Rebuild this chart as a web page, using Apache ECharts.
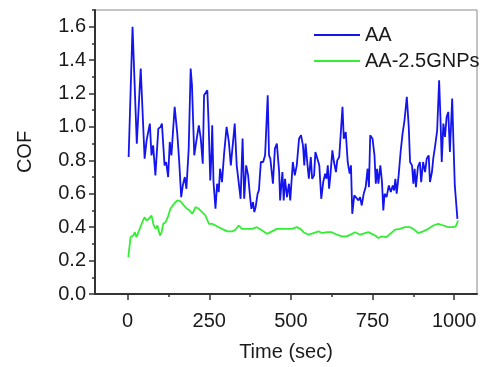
<!DOCTYPE html>
<html>
<head>
<meta charset="utf-8">
<script src="https://cdn.jsdelivr.net/npm/echarts@6/dist/echarts.min.js"></script>
<style>html,body{margin:0;padding:0;background:#fff;}#c{width:487px;height:367px;}</style>
</head>
<body>
<div id="c"></div>
<script>
const aaTime = [3,15,28,40,52,58,68,73,78,85,94,101,105,113,118,124,129,134,139,144,152,158,164,169,175,180,187,193,197,204,210,218,224,230,234,240,244,248,253,257,259,263,269,274,279,283,289,295,303,310,316,322,328,334,340,346,352,357,363,369,375,379,384,388,392,398,402,408,415,421,425,429,433,437,445,451,457,464,467,474,478,482,488,494,498,506,512,518,525,531,537,541,545,551,555,561,565,571,575,581,587,593,599,605,609,613,617,621,627,632,638,642,648,654,658,662,668,674,680,684,688,694,700,707,712,717,723,729,735,739,743,750,756,760,764,768,774,779,783,787,793,800,806,812,816,820,824,830,836,842,848,855,861,865,871,875,879,883,889,895,899,905,911,916,922,926,932,936,942,948,954,958,962,967,972,977,982,987,994,998,1002,1010];
const aaCOF = [0.82,1.60,0.90,1.35,0.81,0.92,1.02,0.83,0.89,0.71,0.99,1.00,1.02,0.77,0.79,0.70,0.91,0.83,0.83,1.12,0.96,0.79,0.58,0.65,0.70,0.63,0.87,1.35,1.25,0.83,0.91,1.01,0.93,0.78,1.19,1.19,1.22,1.02,0.68,0.85,1.01,0.67,0.51,0.66,0.61,0.75,0.67,0.83,1.00,0.91,0.77,0.76,1.02,0.77,0.77,0.57,0.93,0.57,0.77,0.71,0.58,0.51,0.55,0.49,0.52,0.60,0.62,0.79,0.79,0.83,0.84,1.19,0.83,0.81,0.66,0.87,0.90,0.73,0.56,0.73,0.56,0.69,0.58,0.66,0.56,0.79,0.71,0.77,0.93,0.95,0.89,0.77,0.90,0.77,0.69,0.82,0.69,0.71,0.85,0.85,0.77,0.57,0.67,0.72,0.69,0.77,0.63,0.71,0.86,0.79,0.73,0.80,0.82,0.83,1.12,0.93,0.97,0.79,0.72,0.77,0.48,0.59,0.58,0.56,0.58,0.53,0.60,0.64,0.75,0.64,0.95,0.93,0.83,0.66,0.75,0.66,0.77,0.67,0.50,0.60,0.58,0.65,0.61,0.65,0.62,0.69,0.60,0.71,0.85,0.96,1.04,1.18,1.00,0.79,0.77,0.66,0.75,0.64,0.76,0.79,0.67,0.79,0.73,0.81,0.83,0.67,0.73,0.81,0.89,0.98,1.28,1.06,0.79,1.02,0.94,1.06,1.09,0.85,1.17,0.90,0.65,0.45];

const gnpTime = [2,9,17,22,27,35,45,52,58,65,73,80,86,91,99,104,109,116,123,131,142,152,162,172,182,190,198,208,218,228,238,249,259,269,279,289,305,320,330,340,350,361,371,381,396,412,427,442,457,473,488,503,518,529,539,554,569,585,595,610,625,641,656,671,687,697,712,727,737,748,758,768,778,793,804,819,834,849,865,875,890,905,921,936,951,967,982,997,1005,1012];
const gnpCOF = [0.22,0.34,0.35,0.37,0.34,0.38,0.43,0.46,0.44,0.45,0.47,0.41,0.39,0.41,0.35,0.37,0.42,0.43,0.46,0.51,0.54,0.56,0.555,0.53,0.51,0.50,0.48,0.52,0.51,0.49,0.47,0.42,0.42,0.41,0.40,0.39,0.375,0.375,0.385,0.41,0.39,0.39,0.39,0.39,0.40,0.38,0.36,0.375,0.39,0.39,0.39,0.39,0.40,0.39,0.37,0.355,0.365,0.375,0.365,0.37,0.37,0.355,0.345,0.345,0.36,0.37,0.355,0.365,0.37,0.36,0.35,0.335,0.345,0.34,0.36,0.385,0.39,0.40,0.40,0.39,0.365,0.375,0.39,0.41,0.42,0.41,0.40,0.40,0.405,0.44];

const xMajor = [0,250,500,750,1000];
const xMinor = [125,375,625,875];
const yMajor = [0,0.2,0.4,0.6,0.8,1.0,1.2,1.4,1.6];
const yMinor = [0.1,0.3,0.5,0.7,0.9,1.1,1.3,1.5,1.7];

const font = '"Liberation Sans", Arial, sans-serif';
const txt = '#1a1a1a';
const pair = (a, b) => a.map((v, i) => [v, b[i]]);

const chart = echarts.init(document.getElementById('c'), null, {renderer: 'canvas'});
const grid = {left: 95, right: 10, top: 10, bottom: 64, show: true, borderColor: '#8a8a8a', borderWidth: 1, backgroundColor: 'transparent'};
const xMin = -100, xMax = 1070, yMin = 0, yMax = 1.7;
chart.setOption({
  animation: false,
  backgroundColor: '#fff',
  grid: grid,
  legend: {
    orient: 'vertical', left: 309, top: 20, itemWidth: 46, itemHeight: 2, itemGap: 6,
    icon: 'rect',
    textStyle: {fontFamily: font, fontSize: 20, color: txt, lineHeight: 19},
    data: ['AA', 'AA-2.5GNPs']
  },
  xAxis: [{
    type: 'value', min: xMin, max: xMax, position: 'bottom',
    name: 'Time (sec)', nameLocation: 'middle', nameGap: 48,
    nameTextStyle: {fontFamily: font, fontSize: 20, color: txt},
    axisLine: {show: true, onZero: false, lineStyle: {color: '#333', width: 2}},
    axisTick: {show: true, inside: false, length: 6, customValues: xMajor, lineStyle: {color: '#333', width: 1.5}},
    axisLabel: {fontFamily: font, fontSize: 20, color: txt, margin: 17, customValues: xMajor, formatter: v => String(v)},
    splitLine: {show: false}
  }, {
    type: 'value', min: xMin, max: xMax, position: 'bottom', offset: 0,
    axisLine: {show: false, onZero: false},
    axisTick: {show: true, inside: false, length: 3, customValues: xMinor, lineStyle: {color: '#333', width: 1.5}},
    axisLabel: {show: false},
    splitLine: {show: false}
  }],
  yAxis: [{
    type: 'value', min: yMin, max: yMax, position: 'left',
    name: 'COF', nameLocation: 'middle', nameGap: 60, nameRotate: 90,
    nameTextStyle: {fontFamily: font, fontSize: 20, color: txt},
    axisLine: {show: true, onZero: false, lineStyle: {color: '#333', width: 2}},
    axisTick: {show: true, inside: false, length: 6, customValues: yMajor, lineStyle: {color: '#333', width: 1.5}},
    axisLabel: {fontFamily: font, fontSize: 20, color: txt, margin: 9, customValues: yMajor, formatter: v => v.toFixed(1)},
    splitLine: {show: false}
  }, {
    type: 'value', min: yMin, max: yMax, position: 'left', offset: 0,
    axisLine: {show: false, onZero: false},
    axisTick: {show: true, inside: false, length: 3, customValues: yMinor, lineStyle: {color: '#333', width: 1.5}},
    axisLabel: {show: false},
    splitLine: {show: false}
  }],
  series: [{
    name: 'AA', type: 'line', xAxisIndex: 0, yAxisIndex: 0,
    data: pair(aaTime, aaCOF), showSymbol: false, symbol: 'none',
    lineStyle: {color: '#1414ee', width: 1.8}, itemStyle: {color: '#1414ee'}
  }, {
    name: 'AA-2.5GNPs', type: 'line', xAxisIndex: 0, yAxisIndex: 0,
    data: pair(gnpTime, gnpCOF), showSymbol: false, symbol: 'none',
    lineStyle: {color: '#33ee33', width: 1.8}, itemStyle: {color: '#33ee33'}
  }]
});
</script>
</body>
</html>
